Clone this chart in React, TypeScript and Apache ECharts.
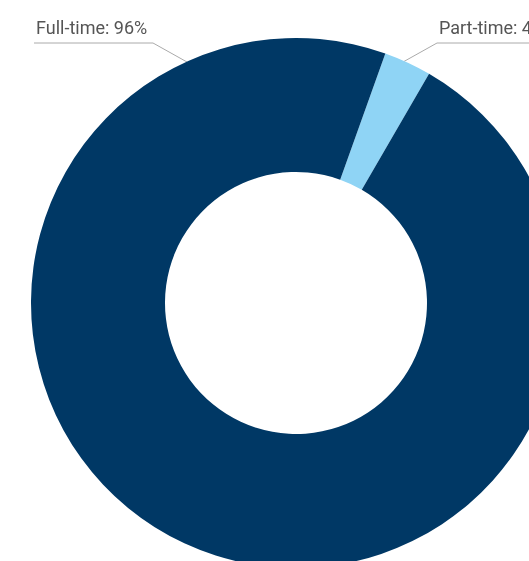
import React, { useEffect, useRef } from "react";
import * as echarts from "echarts";

const categories = ["Part-time", "Full-time"];
const shares = [2.9, 97.1];
const percentLabels = ["4%", "96%"];
const colors = ["#8fd4f5", "#003865"];

export default function App() {
  const ref = useRef<HTMLDivElement>(null);
  useEffect(() => {
    const chart = echarts.init(ref.current!, null, { renderer: "svg" });
    chart.setOption({
      animation: false,
      series: [
        {
          type: "pie",
          center: [296, 303],
          radius: [131, 265],
          startAngle: 70.3,
          clockwise: true,
          avoidLabelOverlap: false,
          data: categories.map((name, i) => ({
            name,
            value: shares[i],
            itemStyle: { color: colors[i] },
          })),
          label: {
            show: true,
            formatter: (p: any) => `${p.name}: ${percentLabels[p.dataIndex]}`,
            fontFamily: "Roboto",
            fontSize: 18,
            color: "#555555",
          },
          labelLine: {
            show: true,
            lineStyle: { color: "#aaaaaa", width: 1 },
          },
          labelLayout: (params: any) =>
            params.dataIndex === 1
              ? {
                  x: 36,
                  y: 27,
                  align: "left",
                  verticalAlign: "middle",
                  labelLinePoints: [
                    [187, 62],
                    [153, 43],
                    [34, 43],
                  ],
                }
              : {
                  x: 439,
                  y: 27,
                  align: "left",
                  verticalAlign: "middle",
                  labelLinePoints: [
                    [403, 62],
                    [437, 43],
                    [540, 43],
                  ],
                },
        },
      ],
    });
    return () => chart.dispose();
  }, []);
  return (
    <div
      ref={ref}
      style={{ position: "fixed", left: 0, top: 0, width: 529, height: 561 }}
    />
  );
}
